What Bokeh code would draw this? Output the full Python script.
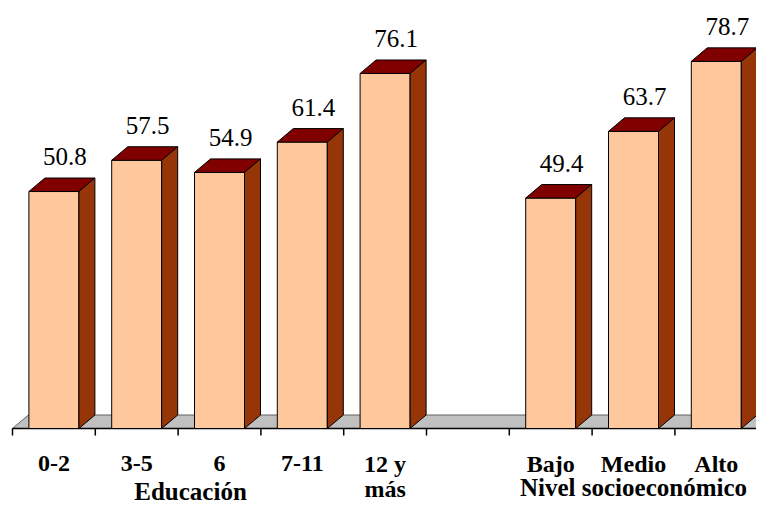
from bokeh.plotting import figure
from bokeh.models import Range1d, ColumnDataSource
from bokeh.core.properties import value
from bokeh.embed import file_html
from bokeh.resources import INLINE

# ---------------- data ----------------
categories = ["0-2", "3-5", "6", "7-11", "12 y\nmás", "", "Bajo", "Medio", "Alto"]
values = [50.8, 57.5, 54.9, 61.4, 76.1, None, 49.4, 63.7, 78.7]
group_titles = ["Educación", "Nivel socioeconómico"]

# ---------------- layout constants (pixels) ----------------
W, H = 756, 504
PX_X = 82.8        # pixels per category slot
PX_Y = 4.665       # pixels per value unit
LEFT_PAD = 12      # canvas px left of first slot boundary
BASE_Y = 428       # canvas px (from top) of the zero line
BAR_W = 50 / PX_X  # bar width in slot units
DX = 16 / PX_X     # depth offset (x) in data units
DY = 13.5 / PX_Y   # depth offset (y) in data units


def ypx(y_canvas):
    """canvas pixel row (from top) -> data y"""
    return (BASE_Y - y_canvas) / PX_Y


FRONT = "#FFC89C"
TOP = "#800000"
SIDE = "#963507"
FLOOR = "#C0C0C0"
SERIF = value("Liberation Serif")

p = figure(width=W, height=H, output_backend="svg", toolbar_location=None,
           x_range=Range1d(-LEFT_PAD / PX_X, (W - LEFT_PAD) / PX_X),
           y_range=Range1d(ypx(H), ypx(0)),
           x_axis_location=None, y_axis_location=None, min_border=0,
           background_fill_color="white", border_fill_color="white")
p.outline_line_color = None
p.xgrid.visible = False
p.ygrid.visible = False

n = len(categories)

# floor
p.patch([0, n, n + DX, DX], [0, 0, DY, DY], fill_color=FLOOR,
        line_color="#606060", line_width=1)

# axis line and ticks
p.line([0, n], [0, 0], line_color="black", line_width=1.5)
p.segment(x0=list(range(n + 1)), y0=[0] * (n + 1), x1=list(range(n + 1)),
          y1=[-7 / PX_Y] * (n + 1), line_color="black", line_width=1.5)

# bars
fl, fr, ft, ks, vs = [], [], [], [], []
top_xs, top_ys, side_xs, side_ys = [], [], [], []
for k, v in enumerate(values):
    if v is None:
        continue
    L = k + 0.5 - BAR_W / 2
    R = k + 0.5 + BAR_W / 2
    fl.append(L); fr.append(R); ft.append(v); ks.append(k); vs.append(v)
    top_xs.append([L, L + DX, R + DX, R])
    top_ys.append([v, v + DY, v + DY, v])
    side_xs.append([R, R + DX, R + DX, R])
    side_ys.append([0, DY, v + DY, v])

p.quad(left=fl, right=fr, bottom=[0] * len(fl), top=ft, fill_color=FRONT,
       line_color="black", line_width=1)
p.patches(top_xs, top_ys, fill_color=TOP, line_color="black", line_width=1)
p.patches(side_xs, side_ys, fill_color=SIDE, line_color="black", line_width=1)

# value labels
lab = ColumnDataSource(dict(
    x=[k + 0.5 + 11 / PX_X for k in ks],
    y=[v + 35 / PX_Y for v in vs],
    t=[f"{v:.1f}" for v in vs]))
p.text(x="x", y="y", text="t", source=lab, text_font=SERIF,
       text_font_size="25px", text_align="center", text_baseline="alphabetic",
       text_color="black")

# category labels (split multi-line labels into rows)
cx, cy, ct = [], [], []
for k, c in enumerate(categories):
    for j, line in enumerate(c.split("\n")):
        if not line:
            continue
        cx.append(k + 0.5)
        cy.append(ypx(463 + 25 * j))
        ct.append(line)
p.text(x=cx, y=cy, text=ct, text_font=SERIF, text_font_size="24px",
       text_font_style="bold", text_align="center", text_baseline="alphabetic",
       text_color="black")

# group titles
tx = [2.15, 7.5]
ty = [ypx(491), ypx(487)]
p.text(x=tx, y=ty, text=group_titles, text_font=SERIF, text_font_size="25px",
       text_font_style="bold", text_align="center", text_baseline="alphabetic",
       text_color="black")

open("out.html", "w").write(file_html(p, INLINE))
